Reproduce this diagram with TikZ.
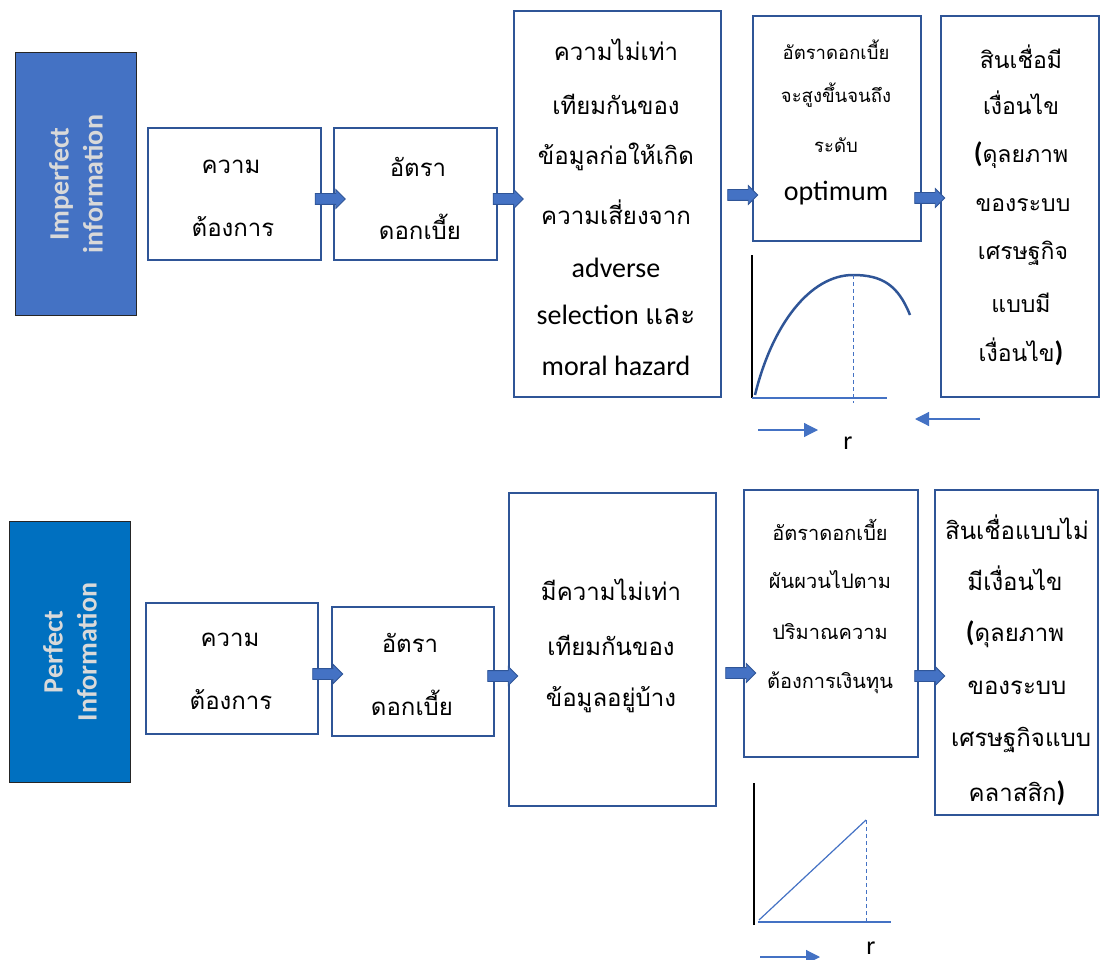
\documentclass[tikz,border=0pt]{standalone}
\usepackage{fontspec}
\setmainfont{Carlito}
\newfontfamily\thai[Script=Thai]{Loma}
\usetikzlibrary{shapes.arrows,arrows.meta,calc}
\definecolor{boxblue}{HTML}{2F5597}
\definecolor{arrblue}{HTML}{4472C4}
\definecolor{perfblue}{HTML}{0070C0}
\definecolor{lbltext}{HTML}{D9D9D9}
\tikzset{
  flowbox/.style={draw=boxblue, line width=2pt, fill=white, anchor=north west, inner sep=0},
  sidebox/.style={draw=black!85, line width=1pt, anchor=north west, inner sep=0},
  sidetext/.style={font=\bfseries\fontsize{28}{34}\selectfont, text=lbltext, align=center, rotate=90, inner sep=0},
  th/.style={font=\thai\fontsize{24}{28}\selectfont, inner sep=0, anchor=center},
  thsmall/.style={font=\thai\fontsize{18.5}{22}\selectfont, inner sep=0, anchor=center},
  thmid/.style={font=\thai\fontsize{20}{24}\selectfont, inner sep=0, anchor=center},
  thbox/.style={font=\thai\fontsize{23}{27}\selectfont, inner sep=0, anchor=center},
  lt/.style={font=\fontsize{28}{32}\selectfont, inner sep=0, anchor=center},
  blockarrow/.style={single arrow, fill=arrblue, draw=boxblue, line width=0.8pt,
     minimum height=30pt, inner xsep=0pt, inner ysep=5pt, single arrow head extend=4pt},
  curve/.style={draw=boxblue, line width=2.5pt},
  axisb/.style={draw=black, line width=1.2pt},
  axish/.style={draw=arrblue, line width=1.2pt},
  guide/.style={draw=arrblue, line width=1pt, dash pattern=on 4pt off 3pt},
  dirarrow/.style={draw=arrblue, line width=1.2pt, -{Triangle[length=14pt,width=14pt]}}
}
\newcommand{\bpar}[1]{{\rmfamily\bfseries\fontsize{28}{32}\selectfont #1}}
\begin{document}
\begin{tikzpicture}[x=1pt,y=-1pt]
\useasboundingbox (0,0) rectangle (1105,960);
% ---------- top row ----------
\node[sidebox, fill=arrblue, minimum width=121pt, minimum height=263pt] (s1) at (15,52) {};
\node[sidetext] (s1t) at (s1.center) {Imperfect\\information};
\node[flowbox, minimum width=173pt, minimum height=132pt] (t1) at (147,127) {};
\node[flowbox, minimum width=163pt, minimum height=132pt] (t2) at (333,127) {};
\node[flowbox, minimum width=207pt, minimum height=386pt] (t3) at (513,10) {};
\node[flowbox, minimum width=168pt, minimum height=225pt] (t4) at (752,15) {};
\node[flowbox, minimum width=158pt, minimum height=381pt] (t5) at (940,15) {};

\node[th] (t1a) at (231,167) {ความ};
\node[th] (t1b) at (233,227) {ต้องการ};
\node[th] (t2a) at (418,167) {อัตรา};
\node[th] (t2b) at (420,227) {ดอกเบี้ย};
\node[th] (t3a) at (616,50) {ความไม่เท่า};
\node[th] (t3b) at (616,104) {เทียมกันของ};
\node[th] (t3c) at (616,157) {ข้อมูลก่อให้เกิด};
\node[th] (t3d) at (616,212) {ความเสี่ยงจาก};
\node[lt] (t3e) at (616,268) {adverse};
\node[lt] (t3f) at (616,315) {selection {\thai และ}};
\node[lt] (t3g) at (616,366) {moral hazard};
\node[thsmall] (t4a) at (836,50) {อัตราดอกเบี้ย};
\node[thsmall] (t4b) at (836,95) {จะสูงขึ้นจนถึง};
\node[thsmall] (t4c) at (836,145) {ระดับ};
\node[lt] (t4d) at (836,193) {optimum};
\node[thbox] (t5a) at (1021,57) {สินเชื่อมี};
\node[thbox] (t5b) at (1021,103) {เงื่อนไข};
\node[thbox] (t5c) at (1021,155) {\bpar{(}ดุลยภาพ};
\node[thbox] (t5d) at (1023,205) {ของระบบ};
\node[thbox] (t5e) at (1023,253) {เศรษฐกิจ};
\node[thbox] (t5f) at (1021,303) {แบบมี};
\node[thbox] (t5g) at (1021,352) {เงื่อนไข\bpar{)}};

\node[blockarrow] (a1) at ($(t1.east)!0.5!(t2.west)+(0,5)$) {};
\node[blockarrow] (a2) at ($(t2.east)!0.5!(t3.west |- t2.east)+(0,5)$) {};
\node[blockarrow] (a3) at (740,195) {};
\node[blockarrow] (a4) at (927,198) {};

% top graph
\coordinate (g1o) at (752,398);
\coordinate (g1top) at (752,255);
\coordinate (g1x) at (887,398);
\coordinate (g1s) at (755,395);
\coordinate (g1p) at (853,275);
\coordinate (g1e) at (910,315);
\coordinate (g1d) at (853,403);
\draw[axisb] (g1o) -- (g1top);
\draw[axish] (g1o) -- (g1x);
\draw[curve] (g1s) .. controls (772,325) and (810,275) .. (g1p) .. controls (882,275) and (898,285) .. (g1e);
\draw[guide] (g1p) -- (g1d);
\coordinate (r1s) at (758,430);
\coordinate (r1e) at (818,430);
\coordinate (l1s) at (980,419);
\coordinate (l1e) at (915,419);
\draw[dirarrow] (r1s) -- (r1e);
\draw[dirarrow] (l1s) -- (l1e);
\node[font=\fontsize{26}{30}\selectfont, inner sep=0] (r1) at (848,443) {r};

% ---------- bottom row ----------
\node[sidebox, fill=perfblue, minimum width=121pt, minimum height=261pt] (s2) at (9,521) {};
\node[sidetext] (s2t) at (s2.center) {Perfect\\Information};
\node[flowbox, minimum width=172pt, minimum height=131pt] (b1) at (145,602) {};
\node[flowbox, minimum width=162pt, minimum height=129pt] (b2) at (331,606) {};
\node[flowbox, minimum width=207pt, minimum height=313pt] (b3) at (508,492) {};
\node[flowbox, minimum width=174pt, minimum height=267pt] (b4) at (743,489) {};
\node[flowbox, minimum width=163pt, minimum height=325pt] (b5) at (934,489) {};

\node[th] (b1a) at (230,640) {ความ};
\node[th] (b1b) at (231,700) {ต้องการ};
\node[th] (b2a) at (410,643) {อัตรา};
\node[th] (b2b) at (412,703) {ดอกเบี้ย};
\node[th] (b3a) at (611,590) {มีความไม่เท่า};
\node[th] (b3b) at (611,645) {เทียมกันของ};
\node[th] (b3c) at (611,700) {ข้อมูลอยู่บ้าง};
\node[thmid] (b4a) at (830,530) {อัตราดอกเบี้ย};
\node[thmid] (b4b) at (830,580) {ผันผวนไปตาม};
\node[thmid] (b4c) at (830,632) {ปริมาณความ};
\node[thmid] (b4d) at (830,683) {ต้องการเงินทุน};
\node[th] (b5a) at (1017,527) {สินเชื่อแบบไม่};
\node[th] (b5b) at (1015,578) {มีเงื่อนไข};
\node[th] (b5c) at (1015,634) {\bpar{(}ดุลยภาพ};
\node[th] (b5d) at (1017,688) {ของระบบ};
\node[th] (b5e) at (1021,740) {เศรษฐกิจแบบ};
\node[th] (b5f) at (1017,793) {คลาสสิก\bpar{)}};

\node[blockarrow] (c1) at (325,674) {};
\node[blockarrow] (c2) at (500,676) {};
\node[blockarrow] (c3) at (738,673) {};
\node[blockarrow] (c4) at (927,676) {};

% bottom graph
\coordinate (g2o) at (754,925);
\coordinate (g2top) at (754,783);
\coordinate (g2xs) at (758,922);
\coordinate (g2x) at (891,922);
\coordinate (g2s) at (759,920);
\coordinate (g2p) at (866,820);
\coordinate (g2d) at (866,922);
\draw[axisb] (g2o) -- (g2top);
\draw[axish] (g2xs) -- (g2x);
\draw[draw=arrblue, line width=1.2pt] (g2s) -- (g2p);
\draw[guide] (g2p) -- (g2d);
\coordinate (r2s) at (760,957);
\coordinate (r2e) at (820,957);
\draw[dirarrow] (r2s) -- (r2e);
\node[font=\fontsize{26}{30}\selectfont, inner sep=0] (r2) at (871,948) {r};
\end{tikzpicture}
\end{document}
